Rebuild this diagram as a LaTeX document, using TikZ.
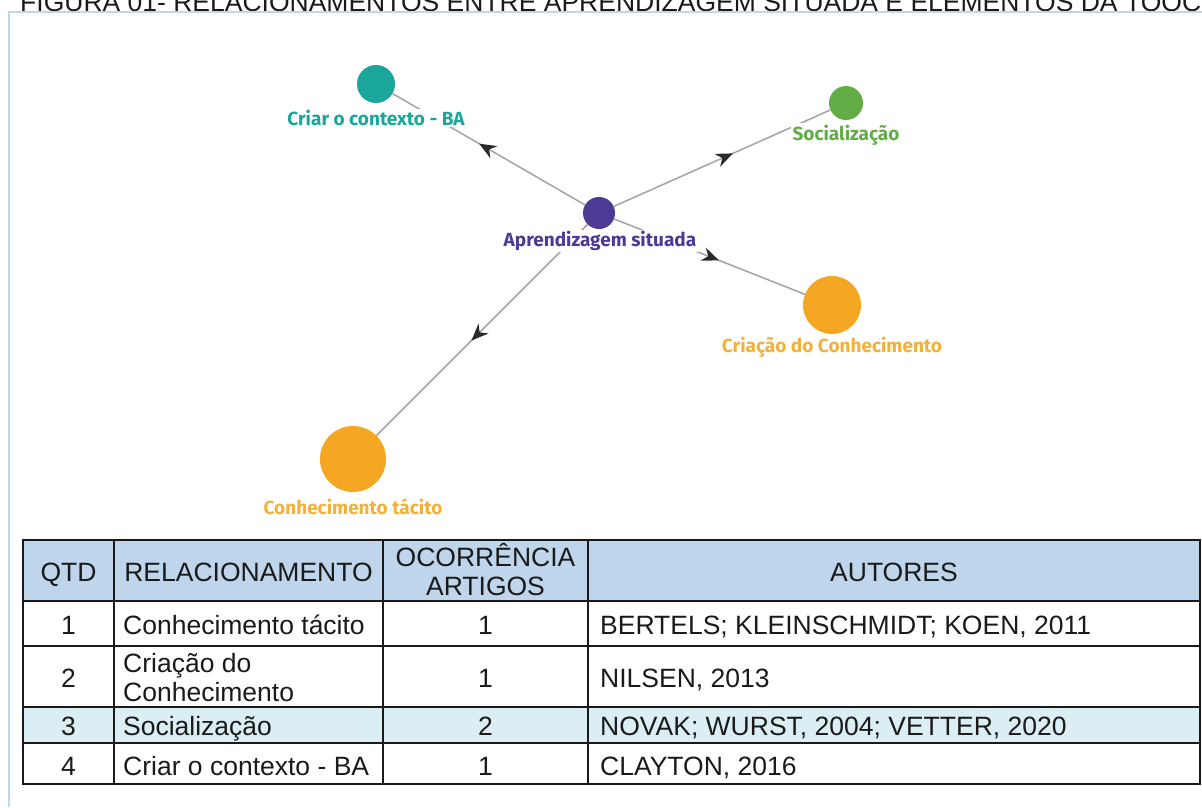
\documentclass[tikz,border=0pt]{standalone}
\usepackage{fontspec}
\setmainfont{Liberation Sans}
\newfontfamily\graphfont{Fira Sans}
\usetikzlibrary{arrows.meta,decorations.markings,backgrounds}

\definecolor{framecol}{HTML}{BDD7EE}
\definecolor{headfill}{HTML}{BED5EC}
\definecolor{rowfill}{HTML}{DBEEF3}
\definecolor{cteal}{HTML}{1AA69B}
\definecolor{cpurple}{HTML}{4E3A96}
\definecolor{cgreen}{HTML}{62AD46}
\definecolor{corange}{HTML}{F5A623}
\definecolor{lorange}{HTML}{F2B13A}
\definecolor{edgecol}{HTML}{A3A3A3}
\definecolor{tipcol}{HTML}{2A2A2A}
\definecolor{textcol}{HTML}{1A1A1A}

\tikzset{
  gdot/.style={circle, inner sep=0pt, minimum size=#1},
  glabel/.style={font=\graphfont\bfseries\fontsize{19}{21}\selectfont,
    fill=white, inner sep=1.5pt},
  link/.style={draw=edgecol, line width=1.5pt, postaction={decorate},
    decoration={markings, mark=at position 0.55 with
      {\arrow{Stealth[length=17pt,width=14pt,inset=5.5pt,color=tipcol]}}}},
  tline/.style={draw=textcol, line width=2pt},
  tcell/.style={font=\fontsize{26.5}{29}\selectfont, text=textcol, inner sep=0pt},
}

\begin{document}
\begin{tikzpicture}[x=1pt, y=-1pt]
\useasboundingbox (0,0) rectangle (1202,807);
\clip (0,0) rectangle (1202,807);

% caption line, cut at the top edge
\node[tcell, anchor=base west] (title) at (20,11)
  {FIGURA 01- RELACIONAMENTOS ENTRE APRENDIZAGEM SITUADA E ELEMENTOS DA TOOC};

% light blue frame
\draw[framecol, line width=2pt] (8.5,807) -- (8.5,12) -- (1202,12);

% ---- graph ----
\node[gdot=32pt, fill=cpurple] (apr) at (599,213) {};
\node[gdot=38pt, fill=cteal]   (ba)  at (376,84) {};
\node[gdot=34pt, fill=cgreen]  (soc) at (846,103) {};
\node[gdot=58pt, fill=corange] (cri) at (832,305) {};
\node[gdot=66pt, fill=corange] (tac) at (353,459) {};

\node[glabel, text=cpurple] (aprL) at (600,241) {Aprendizagem situada};
\node[glabel, text=cteal]   (baL)  at (376,118) {Criar o contexto - BA};
\node[glabel, text=cgreen]  (socL) at (846,135) {Socialização};
\node[glabel, text=lorange] (criL) at (832,347) {Criação do Conhecimento};
\node[glabel, text=lorange] (tacL) at (353,507) {Conhecimento tácito};

% connectors run behind the circles and their labels
\begin{scope}[on background layer]
\draw[link] (apr) -- (ba);
\draw[link] (apr) -- (soc);
\draw[link] (apr) -- (cri);
\draw[link] (apr) -- (tac);
\end{scope}

% ---- table ----
\fill[headfill] (23,540) rectangle (1200,601);
\fill[rowfill]  (23,707) rectangle (1200,743);
\draw[tline] (23,540) rectangle (1200,784);
\foreach \yy in {601,646,707,743} \draw[tline] (23,\yy) -- (1200,\yy);
\foreach \xx in {114,383,588} \draw[tline] (\xx,540) -- (\xx,784);

% header
\node[tcell, anchor=base] (hq) at (68.5,581) {QTD};
\node[tcell, anchor=base] (hr) at (248.5,581) {RELACIONAMENTO};
\node[tcell, anchor=base] (ho1) at (485.5,566) {OCORRÊNCIA};
\node[tcell, anchor=base] (ho2) at (485.5,595) {ARTIGOS};
\node[tcell, anchor=base] (ha) at (894,581) {AUTORES};

% row 1
\node[tcell, anchor=base] (q1) at (68.5,634) {1};
\node[tcell, anchor=base west] (r1) at (123,634) {Conhecimento tácito};
\node[tcell, anchor=base] (o1) at (485.5,634) {1};
\node[tcell, anchor=base west] (a1) at (600,634) {BERTELS; KLEINSCHMIDT; KOEN, 2011};

% row 2
\node[tcell, anchor=base] (q2) at (68.5,687) {2};
\node[tcell, anchor=base west] (r2a) at (123,672) {Criação do};
\node[tcell, anchor=base west] (r2b) at (123,701) {Conhecimento};
\node[tcell, anchor=base] (o2) at (485.5,687) {1};
\node[tcell, anchor=base west] (a2) at (600,687) {NILSEN, 2013};

% row 3
\node[tcell, anchor=base] (q3) at (68.5,735.5) {3};
\node[tcell, anchor=base west] (r3) at (123,735.5) {Socialização};
\node[tcell, anchor=base] (o3) at (485.5,735.5) {2};
\node[tcell, anchor=base west] (a3) at (600,735.5) {NOVAK; WURST, 2004; VETTER, 2020};

% row 4
\node[tcell, anchor=base] (q4) at (68.5,775) {4};
\node[tcell, anchor=base west] (r4) at (123,775) {Criar o contexto - BA};
\node[tcell, anchor=base] (o4) at (485.5,775) {1};
\node[tcell, anchor=base west] (a4) at (600,775) {CLAYTON, 2016};
\end{tikzpicture}
\end{document}
